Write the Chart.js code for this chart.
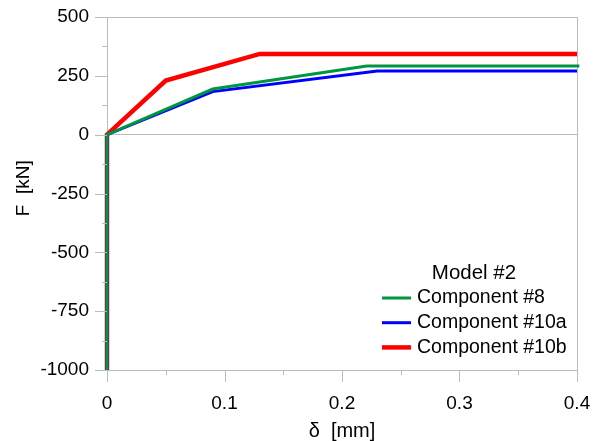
<!DOCTYPE html>
<html>
<head>
<meta charset="utf-8">
<script src="https://cdn.jsdelivr.net/npm/chart.js@4.4.1/dist/chart.umd.min.js"></script>
<style>
    html, body { margin: 0; padding: 0; background: #fff; }
    #wrap { width: 605px; height: 441px; }
</style>
</head>
<body>
<div id="wrap"><canvas id="chart" width="605" height="441"></canvas></div>
<script>
// Force-displacement curves, Model #2
const LEGEND_TITLE = 'Model #2';
const SERIES_NAMES = ['Component #8', 'Component #10a', 'Component #10b'];

const COMP8_X = [0, 0, 0.09, 0.221, 0.402];
const COMP8_Y = [-1000, 0, 194, 292, 292];

const COMP10A_X = [0, 0, 0.09, 0.23, 0.4];
const COMP10A_Y = [-1000, 0, 183, 271, 271];

const COMP10B_X = [0, 0, 0.05, 0.13, 0.4];
const COMP10B_Y = [-1000, 0, 230, 343, 343];

const X_RANGE = [0, 0.4];
const Y_RANGE = [-1000, 500];
const X_STEP = 0.1;
const Y_STEP = 250;
const Y_GRID_VALUES = [0, 500];

const COLORS = {
    green: '#00963f',
    blue: '#0000ff',
    red: '#ff0000',
    axis: '#bcbcbc',
    text: '#000000'
};
const FONT = "'Liberation Sans', Arial, sans-serif";

function toPoints(xs, ys) {
    return xs.map((x, i) => ({ x: x, y: ys[i] }));
}

// keep the plot box fixed: no extra room for label overhang
function fixScale(scale, size) {
    if (scale.isHorizontal()) scale.height = size;
    else scale.width = size;
    scale.paddingTop = 0;
    scale.paddingBottom = 0;
    scale.paddingLeft = 0;
    scale.paddingRight = 0;
}

// Major ticks (long) plus minor ticks halfway between them
const tickMarks = {
    id: 'tickMarks',
    afterDraw(chart) {
        const ctx = chart.ctx;
        const xs = chart.scales.x;
        const ys = chart.scales.y;
        const area = chart.chartArea;
        ctx.save();
        ctx.strokeStyle = COLORS.axis;
        ctx.lineWidth = 1;
        ctx.beginPath();
        const xt = xs.ticks.map(t => t.value);
        xt.forEach((v, i) => {
            const px = Math.round(xs.getPixelForValue(v)) + 0.5;
            ctx.moveTo(px, area.bottom);
            ctx.lineTo(px, area.bottom + 12);
            if (i < xt.length - 1) {
                const mx = Math.round(xs.getPixelForValue((v + xt[i + 1]) / 2)) + 0.5;
                ctx.moveTo(mx, area.bottom);
                ctx.lineTo(mx, area.bottom + 5);
            }
        });
        const yt = ys.ticks.map(t => t.value);
        yt.forEach((v, i) => {
            const py = Math.round(ys.getPixelForValue(v)) + 0.5;
            ctx.moveTo(area.left, py);
            ctx.lineTo(area.left - 12, py);
            if (i < yt.length - 1) {
                const my = Math.round(ys.getPixelForValue((v + yt[i + 1]) / 2)) + 0.5;
                ctx.moveTo(area.left, my);
                ctx.lineTo(area.left - 5, my);
            }
        });
        ctx.stroke();
        ctx.restore();
    }
};

// Legend box inside the plot, lower right
const insideLegend = {
    id: 'insideLegend',
    afterDraw(chart) {
        const ctx = chart.ctx;
        const lineX0 = 382, lineX1 = 411, textX = 417;
        const firstY = 298, rowGap = 24.7;
        ctx.save();
        ctx.fillStyle = COLORS.text;
        ctx.textBaseline = 'middle';
        ctx.textAlign = 'center';
        ctx.font = '20.5px ' + FONT;
        ctx.fillText(LEGEND_TITLE, 474, firstY - rowGap);
        ctx.textAlign = 'left';
        ctx.font = '19.5px ' + FONT;
        chart.data.datasets.forEach((ds, i) => {
            const y = firstY + i * rowGap;
            ctx.strokeStyle = ds.borderColor;
            ctx.lineWidth = ds.borderWidth;
            ctx.beginPath();
            ctx.moveTo(lineX0, y);
            ctx.lineTo(lineX1, y);
            ctx.stroke();
            ctx.fillText(ds.label, textX, y);
        });
        ctx.restore();
    }
};

new Chart(document.getElementById('chart').getContext('2d'), {
    type: 'scatter',
    data: {
        datasets: [{
            label: SERIES_NAMES[0],
            data: toPoints(COMP8_X, COMP8_Y),
            borderColor: COLORS.green,
            borderWidth: 3,
            clip: 4
        }, {
            label: SERIES_NAMES[1],
            data: toPoints(COMP10A_X, COMP10A_Y),
            borderColor: COLORS.blue,
            borderWidth: 3,
            clip: 4
        }, {
            label: SERIES_NAMES[2],
            data: toPoints(COMP10B_X, COMP10B_Y),
            borderColor: COLORS.red,
            borderWidth: 4.5,
            clip: 4
        }]
    },
    options: {
        responsive: false,
        animation: false,
        showLine: true,
        elements: {
            point: { radius: 0, hoverRadius: 0 },
            line: { tension: 0, fill: false }
        },
        layout: {
            padding: { top: 17, right: 28, bottom: 0, left: 0 }
        },
        plugins: {
            legend: { display: false },
            tooltip: { enabled: false }
        },
        scales: {
            x: {
                type: 'linear',
                min: X_RANGE[0],
                max: X_RANGE[1],
                afterFit: scale => fixScale(scale, 71),
                ticks: {
                    stepSize: X_STEP,
                    padding: 22,
                    color: COLORS.text,
                    font: { family: FONT, size: 19 },
                    maxRotation: 0,
                    callback: v => String(Math.round(v * 10) / 10)
                },
                grid: {
                    drawTicks: false,
                    color: c => (c.tick && c.tick.value === X_RANGE[1]) ? COLORS.axis : 'transparent'
                },
                border: { display: true, color: COLORS.axis },
                title: {
                    display: true,
                    text: 'δ  [mm]',
                    color: COLORS.text,
                    font: { family: FONT, size: 20, lineHeight: 1 },
                    padding: 0
                }
            },
            y: {
                type: 'linear',
                min: Y_RANGE[0],
                max: Y_RANGE[1],
                afterFit: scale => fixScale(scale, 107),
                ticks: {
                    stepSize: Y_STEP,
                    padding: 18,
                    color: COLORS.text,
                    font: { family: FONT, size: 19 },
                    callback: v => String(v)
                },
                grid: {
                    drawTicks: false,
                    color: c => (c.tick && Y_GRID_VALUES.includes(c.tick.value)) ? COLORS.axis : 'transparent'
                },
                border: { display: true, color: COLORS.axis },
                title: {
                    display: true,
                    text: '  F  [kN]',
                    color: COLORS.text,
                    font: { family: FONT, size: 19, lineHeight: 1 },
                    padding: { top: 14.5, bottom: 0 }
                }
            }
        }
    },
    plugins: [tickMarks, insideLegend]
});
</script>
</body>
</html>
